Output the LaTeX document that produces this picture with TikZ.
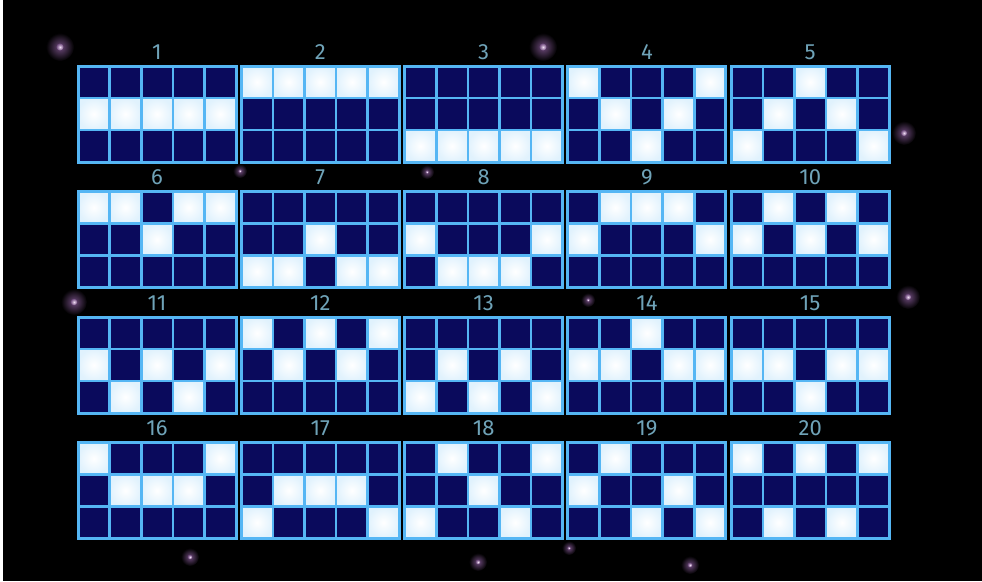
\documentclass[tikz,border=0pt]{standalone}
\usepackage{fontspec}
\setsansfont{Fira Sans}
\definecolor{lineblue}{HTML}{55B6F4}
\definecolor{cellnavy}{HTML}{0A0A5C}
\definecolor{labelgray}{HTML}{6FA3B8}
\definecolor{glowhalo}{HTML}{6E4A7C}
\definecolor{glowcore}{HTML}{F0DDF4}
\tikzset{
  gridline/.style={draw=lineblue,line width=2.6pt},
  paycell/.style={inner color=white,outer color=lineblue!18},
  linelabel/.style={font=\sffamily\fontsize{22}{22}\selectfont,text=labelgray,inner sep=0pt},
  sparkle/.style={inner color=glowhalo,outer color=black},
  sparkcore/.style={inner color=glowcore,outer color=glowhalo},
}
\begin{document}
\begin{tikzpicture}[x=1pt,y=-1pt,line join=miter]
  \fill[black] (0,0) rectangle (982,581);
  \useasboundingbox (0,0) rectangle (982,581);
  \fill[white] (0,0) rectangle (2.5,581);
  % glow dots
  \foreach \x/\y/\r in {60/47/14,543/47/14,904/133/12,908/297/12,74/302/13,190/557/9,478/562/9,690/565/9,569/548/7,240/171/7,427/172/7,588/300/7}{
    \shade[sparkle] (\x,\y) circle (\r);
    \shade[sparkcore] (\x,\y) circle (\r/4);
  }
  % paylines: row of the lit cell in each reel (0 top, 2 bottom)
  \foreach \n/\a/\b/\c/\d/\e in {1/1/1/1/1/1,2/0/0/0/0/0,3/2/2/2/2/2,4/0/1/2/1/0,5/2/1/0/1/2,
      6/0/0/1/0/0,7/2/2/1/2/2,8/1/2/2/2/1,9/1/0/0/0/1,10/1/0/1/0/1,
      11/1/2/1/2/1,12/0/1/0/1/0,13/2/1/2/1/2,14/1/1/0/1/1,15/1/1/2/1/1,
      16/0/1/1/1/0,17/2/1/1/1/2,18/2/0/1/2/0,19/1/0/2/1/2,20/0/2/0/2/0}{
    \pgfmathsetmacro\gx{78+163.3*mod(\n-1,5)}
    \pgfmathsetmacro\gy{66+125.5*div(\n-1,5)}
    \begin{scope}[shift={(\gx,\gy)}]
      \node[linelabel] (lab\n) at (79,-14) {\n};
      \fill[cellnavy] (0,0) rectangle (158,96);
      \foreach \col/\row in {0/\a,1/\b,2/\c,3/\d,4/\e}
        \shade[paycell] (31.6*\col,32*\row) rectangle ++(31.6,32);
      \foreach \col in {1,...,4}
        \draw[gridline] (31.6*\col,0) -- ++(0,96);
      \foreach \row in {1,2}
        \draw[gridline] (0,32*\row) -- ++(158,0);
      \draw[gridline,line width=3pt] (0,0) rectangle (158,96);
    \end{scope}
  }
\end{tikzpicture}
\end{document}
